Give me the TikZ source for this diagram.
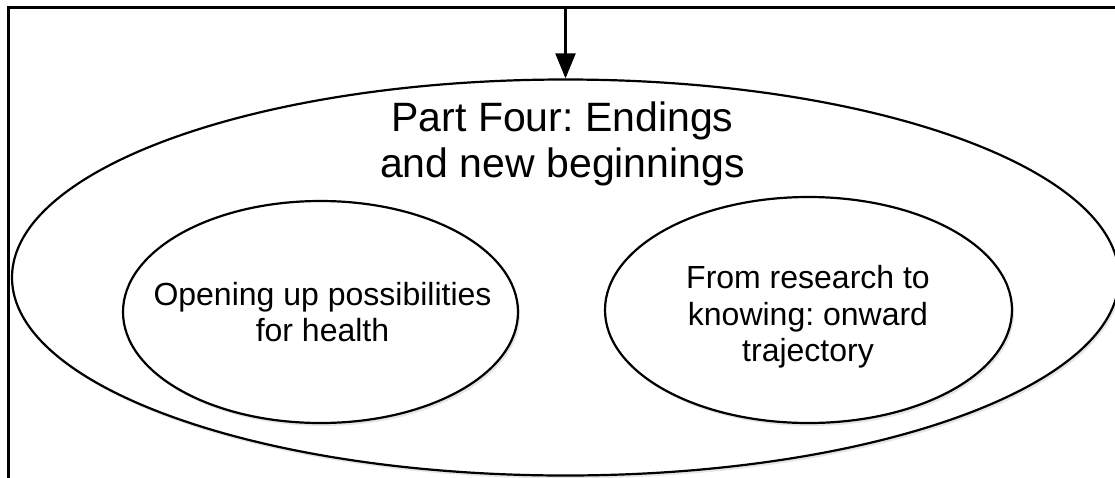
\documentclass[tikz,border=0pt]{standalone}
\usepackage{fontspec}
\setmainfont{Liberation Sans}
\frenchspacing
\usetikzlibrary{shapes.geometric,shadows,arrows.meta}
\begin{document}
\begin{tikzpicture}[x=1pt,y=-1pt,
  bubble/.style={ellipse,draw=black,line width=2.2pt,fill=white,inner sep=0pt,
    drop shadow={shadow xshift=2pt,shadow yshift=-3pt,opacity=0.2}},
  bodytext/.style={font=\fontsize{32}{36.5}\selectfont,align=center,inner sep=0pt},
  titletext/.style={font=\fontsize{41}{46}\selectfont,align=center,inner sep=0pt}]
\useasboundingbox (0,0) rectangle (1115,477);
\clip (0,0) rectangle (1115,477);
\fill[white] (0,0) rectangle (1115,477);
% open frame: left and top sides
\draw[line width=2.4pt] (8.5,490) -- (8.5,7.5) -- (1130,7.5);
\coordinate (src) at (565.5,7.5);
% enclosing part ellipse
\node[bubble,minimum width=1107pt,minimum height=396pt] (outer) at (565.5,277.5) {};
\node[titletext,anchor=base] (title) at (562.5,177) {Part Four: Endings\\and new beginnings};
% the two chapters
\node[bubble,minimum width=395pt,minimum height=222pt] (health) at (320.5,312) {};
\node[bodytext] (healthtext) at (322.5,312) {Opening up possibilities\\for health};
\node[bubble,minimum width=407pt,minimum height=226pt] (onward) at (808.5,310) {};
\node[bodytext] (onwardtext) at (808,317) {From research to\\knowing: onward\\trajectory};
\draw[line width=2.2pt,-{Triangle[width=20pt,length=25pt]}] (src) -- (outer.north);
\end{tikzpicture}
\end{document}
